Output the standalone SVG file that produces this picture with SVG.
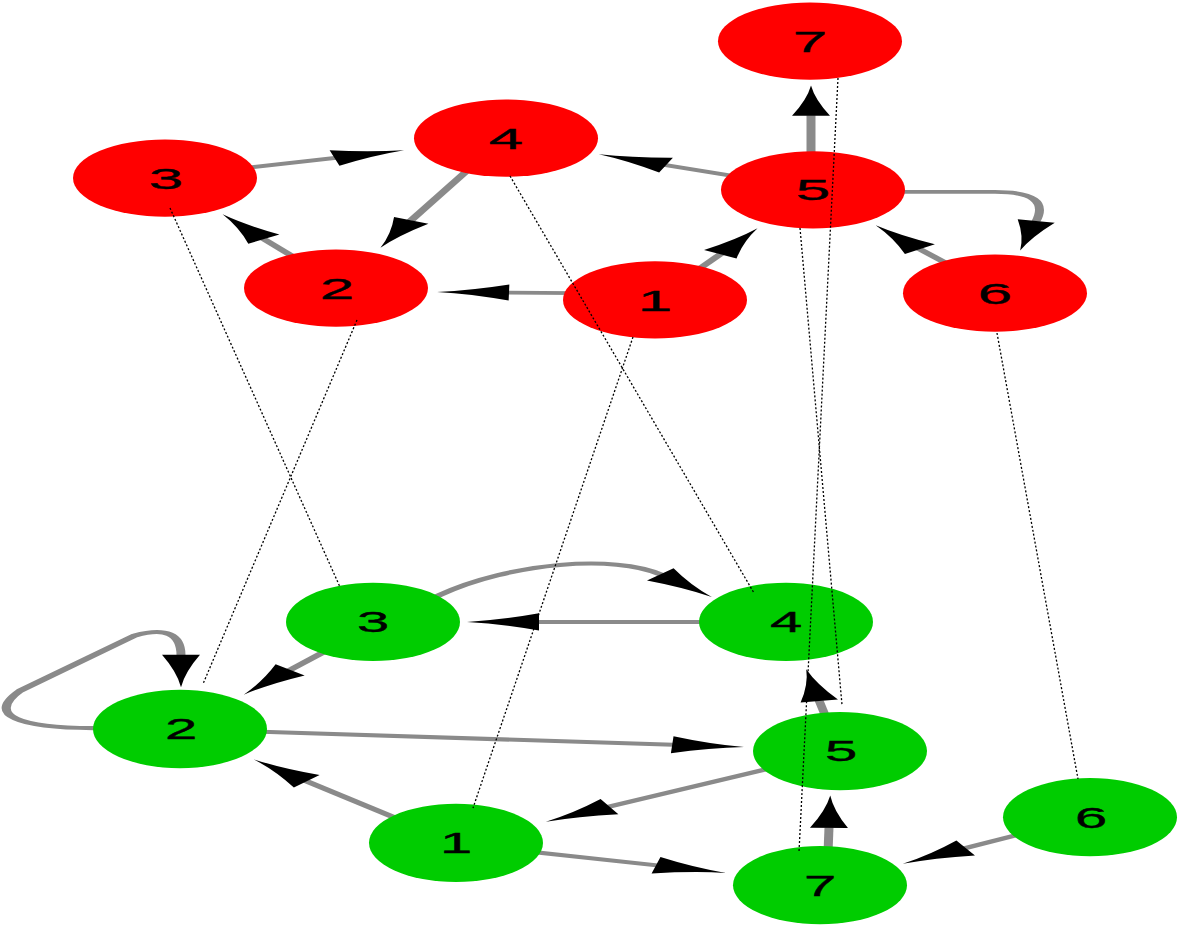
<svg xmlns="http://www.w3.org/2000/svg" width="1181" height="929" viewBox="0 0 1181 929">
<style>
.edge{fill:none;stroke:#8a8a8a;stroke-width:9;stroke-linejoin:round;marker-end:url(#ah)}
.link{fill:none;stroke:#000;stroke-width:1.3;stroke-dasharray:2 2}
.rn{fill:#ff0000}
.gn{fill:#00cc00}
.lbl{font-family:"Liberation Sans",Arial,sans-serif;text-anchor:middle;fill:#000;stroke:#000;stroke-width:0.7}
.rl{font-size:62px}
.gl{font-size:58px}
</style>
<defs>
<marker id="ah" markerUnits="userSpaceOnUse" markerWidth="72" markerHeight="38" viewBox="0 0 72 38" refX="1" refY="19" orient="auto" overflow="visible">
<path d="M0,0 Q38,15 72,19 Q38,23 0,38 Z" fill="#000"/>
</marker>
</defs>
<rect width="1181" height="929" fill="#fff"/>
<g id="connectors">
<g id="red-edges" transform="matrix(1 0 0 0.42 0 0)">
<path class="edge" d="M240,401.5 L335.5,375.9"/>
<path class="edge" d="M466.4,407.8 L410.8,525.4"/>
<path class="edge" d="M295.6,614.7 L263.3,568.5"/>
<path class="edge" d="M577,697.9 L508,696.6"/>
<path class="edge" d="M694.2,648.5 L720.8,604.5"/>
<path class="edge" d="M741,422.1 L665.1,392.7"/>
<path class="edge" d="M811,377 L811,274.4"/>
<path class="edge" d="M880,457 L995,457 Q1052,457 1036,527"/>
<path class="edge" d="M949.2,630.8 L919.3,592.4"/>
</g>
<g id="green-edges" transform="matrix(1 0 0 0.45 0 0)">
<path class="edge" d="M429.5,1332.8 L440,1322 C510,1250 615,1232 661,1277"/>
<path class="edge" d="M715,1382 L538,1382"/>
<path class="edge" d="M327.7,1444.1 L289.5,1489.4"/>
<path class="edge" d="M110,1618 L93,1618 C20,1618 -15,1590 20,1535 L135,1412 Q181,1385 181,1456"/>
<path class="edge" d="M253,1625.6 L673.2,1655"/>
<path class="edge" d="M776.2,1704 L608.6,1792.9"/>
<path class="edge" d="M404,1825.8 L306,1735.5"/>
<path class="edge" d="M528.4,1892.1 L657,1923.1"/>
<path class="edge" d="M828,1895 L829,1838.7"/>
<path class="edge" d="M825.7,1592.7 L819.1,1556.8"/>
<path class="edge" d="M1026,1850.5 L964.8,1884.8"/>
</g>
</g>
<g id="red-7" transform="matrix(1 0 0 0.42 0 0)"><circle class="rn" cx="810" cy="98" r="92"/><text class="lbl rl" transform="translate(810 98) scale(1 1.15)" y="22">7</text></g>
<g id="red-4" transform="matrix(1 0 0 0.42 0 0)"><circle class="rn" cx="506" cy="329" r="92"/><text class="lbl rl" transform="translate(506 329) scale(1 1.15)" y="22">4</text></g>
<g id="red-3" transform="matrix(1 0 0 0.42 0 0)"><circle class="rn" cx="165" cy="424" r="92"/><text class="lbl rl" transform="translate(166 424) scale(1 1.15)" y="22">3</text></g>
<g id="red-5" transform="matrix(1 0 0 0.42 0 0)"><circle class="rn" cx="813" cy="452" r="92"/><text class="lbl rl" transform="translate(813 452) scale(1 1.15)" y="22">5</text></g>
<g id="red-2" transform="matrix(1 0 0 0.42 0 0)"><circle class="rn" cx="336" cy="686" r="92"/><text class="lbl rl" transform="translate(337 686) scale(1 1.15)" y="22">2</text></g>
<g id="red-1" transform="matrix(1 0 0 0.42 0 0)"><circle class="rn" cx="655" cy="714" r="92"/><text class="lbl rl" transform="translate(655 714) scale(1 1.15)" y="22">1</text></g>
<g id="red-6" transform="matrix(1 0 0 0.42 0 0)"><circle class="rn" cx="995" cy="698" r="92"/><text class="lbl rl" transform="translate(995 698) scale(1 1.15)" y="22">6</text></g>
<g id="green-3" transform="matrix(1 0 0 0.45 0 0)"><circle class="gn" cx="373" cy="1382" r="87"/><text class="lbl gl" transform="translate(373 1382) scale(1 1.1)" y="21">3</text></g>
<g id="green-4" transform="matrix(1 0 0 0.45 0 0)"><circle class="gn" cx="786" cy="1382" r="87"/><text class="lbl gl" transform="translate(786 1382) scale(1 1.1)" y="21">4</text></g>
<g id="green-2" transform="matrix(1 0 0 0.45 0 0)"><circle class="gn" cx="180" cy="1620" r="87"/><text class="lbl gl" transform="translate(181 1620) scale(1 1.1)" y="21">2</text></g>
<g id="green-5" transform="matrix(1 0 0 0.45 0 0)"><circle class="gn" cx="840" cy="1669" r="87"/><text class="lbl gl" transform="translate(841 1669) scale(1 1.1)" y="21">5</text></g>
<g id="green-1" transform="matrix(1 0 0 0.45 0 0)"><circle class="gn" cx="456" cy="1873" r="87"/><text class="lbl gl" transform="translate(456 1873) scale(1 1.1)" y="21">1</text></g>
<g id="green-6" transform="matrix(1 0 0 0.45 0 0)"><circle class="gn" cx="1090" cy="1816" r="87"/><text class="lbl gl" transform="translate(1091 1816) scale(1 1.1)" y="21">6</text></g>
<g id="green-7" transform="matrix(1 0 0 0.45 0 0)"><circle class="gn" cx="820" cy="1967" r="87"/><text class="lbl gl" transform="translate(820 1967) scale(1 1.1)" y="21">7</text></g>
<g id="layer-links">
<line class="link" x1="170" y1="208" x2="340" y2="587"/>
<line class="link" x1="357" y1="320" x2="203" y2="684"/>
<line class="link" x1="510" y1="176" x2="754" y2="593"/>
<line class="link" x1="633" y1="337" x2="473" y2="808"/>
<line class="link" x1="800" y1="228" x2="842" y2="705"/>
<line class="link" x1="838" y1="78" x2="799" y2="852"/>
<line class="link" x1="997" y1="333" x2="1078" y2="779"/>
</g>
</svg>
